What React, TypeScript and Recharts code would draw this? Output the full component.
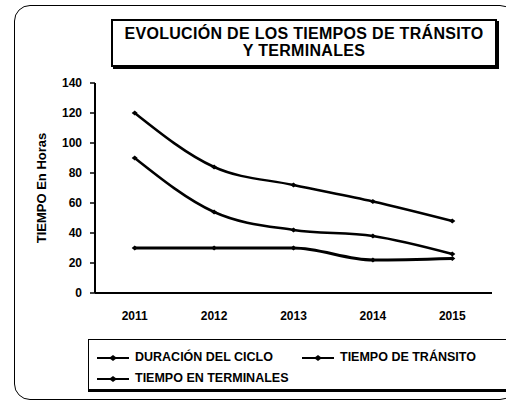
import { LineChart, Line, XAxis, YAxis } from 'recharts';

const years = ['2011', '2012', '2013', '2014', '2015'];
const duracionCiclo = [120, 84, 72, 61, 48];
const tiempoTransito = [90, 54, 42, 38, 26];
const tiempoTerminales = [30, 30, 30, 22, 23];
const yTicks = [0, 20, 40, 60, 80, 100, 120, 140];
const seriesNames = ['DURACIÓN DEL CICLO', 'TIEMPO DE TRÁNSITO', 'TIEMPO EN TERMINALES'];
const titleLines = ['EVOLUCIÓN DE LOS TIEMPOS DE TRÁNSITO', 'Y TERMINALES'];

// points sit in the middle of each year's slot
const data = years.map((year, i) => ({
  year,
  idx: i + 0.5,
  ciclo: duracionCiclo[i],
  transito: tiempoTransito[i],
  terminales: tiempoTerminales[i],
}));
const yearCenters = years.map((_, i) => i + 0.5);
const yearEdges = [0, ...years.map((_, i) => i + 1)];

const FONT = 'Arial, "Liberation Sans", sans-serif';
const tickStyle = { fill: '#000', fontSize: 12, fontWeight: 700, fontFamily: FONT };

const Dot = (props: any) => {
  const { cx, cy } = props;
  if (cx == null || cy == null) return null;
  return <path d={`M${cx - 3},${cy} L${cx},${cy - 2.5} L${cx + 3},${cy} L${cx},${cy + 2.5} Z`} fill="#000" />;
};

function LegendMark() {
  return (
    <svg width={32} height={8} style={{ display: 'inline-block', verticalAlign: 'middle', marginRight: 6 }}>
      <line x1={0} y1={4} x2={32} y2={4} stroke="#000" strokeWidth={2} />
      <path d="M12,4 L16,1 L20,4 L16,7 Z" fill="#000" />
    </svg>
  );
}

export default function App() {
  return (
    <div style={{ position: 'absolute', left: 0, top: 0, width: 506, height: 401, background: '#fff', fontFamily: FONT, overflow: 'hidden' }}>
      <div style={{ position: 'absolute', left: 14, top: 5, width: 500, height: 393, border: '1.5px solid #000', borderRadius: 16 }} />
      <div
        style={{
          position: 'absolute', left: 111, top: 19, width: 386, height: 48, border: '2px solid #000',
          boxShadow: '2px 2px 0 #000', textAlign: 'center', fontWeight: 700, fontSize: 16, lineHeight: '17px', paddingTop: 4, boxSizing: 'border-box',
          letterSpacing: 0.3,
        }}
      >
        {titleLines.map((t) => <div key={t}>{t}</div>)}
      </div>
      <LineChart width={506} height={401} data={data} margin={{ top: 83, right: 14, bottom: 78, left: 55 }} style={{ position: 'absolute', left: 0, top: 0 }}>
        <XAxis dataKey="idx" type="number" domain={[0, 5]} ticks={yearCenters} tickFormatter={(v: number) => years[Math.floor(v)]}
          axisLine={{ stroke: '#000', strokeWidth: 2 }} tickLine={false} tick={tickStyle} tickMargin={12} height={30} />
        <XAxis xAxisId="grid" type="number" dataKey="idx" domain={[0, 5]} ticks={yearEdges} axisLine={false} tick={false}
          tickLine={{ stroke: '#000', strokeWidth: 1.5 }} tickSize={4} height={0} />
        <YAxis domain={[0, 140]} ticks={yTicks} axisLine={{ stroke: '#000', strokeWidth: 2 }} tickLine={{ stroke: '#000', strokeWidth: 1.5 }} tickSize={5} tickMargin={8} tick={tickStyle} width={40}
          label={{ value: 'TIEMPO En Horas', angle: -90, position: 'insideLeft', offset: -14, style: { ...tickStyle, fontSize: 13, textAnchor: 'middle' } }} />
        <Line type="monotone" dataKey="ciclo" stroke="#000" strokeWidth={2.5} dot={<Dot />} isAnimationActive={false} />
        <Line type="monotone" dataKey="transito" stroke="#000" strokeWidth={2.5} dot={<Dot />} isAnimationActive={false} />
        <Line type="monotone" dataKey="terminales" stroke="#000" strokeWidth={3} dot={<Dot />} isAnimationActive={false} />
      </LineChart>
      <div
        style={{
          position: 'absolute', left: 88, top: 339, width: 424, height: 53, border: '1.5px solid #000', borderBottomWidth: 3,
          boxSizing: 'border-box', fontSize: 12.5, fontWeight: 700, padding: '5px 0 0 8px',
        }}
      >
        <div style={{ display: 'flex', height: 24, alignItems: 'center' }}>
          <span style={{ width: 205 }}><LegendMark />{seriesNames[0]}</span>
          <span><LegendMark />{seriesNames[1]}</span>
        </div>
        <div style={{ display: 'flex', height: 18, alignItems: 'center' }}>
          <span><LegendMark />{seriesNames[2]}</span>
        </div>
      </div>
    </div>
  );
}
